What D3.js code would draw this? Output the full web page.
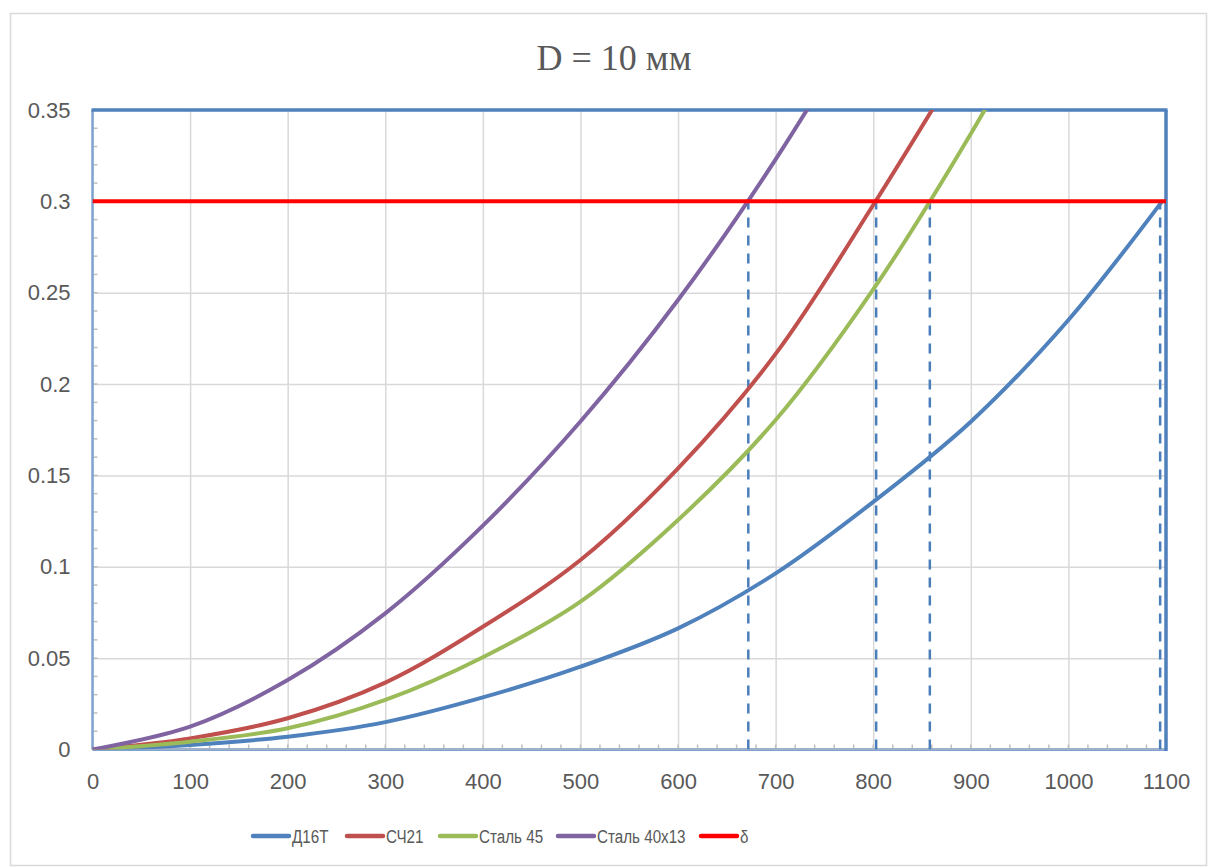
<!DOCTYPE html>
<html>
<head>
<meta charset="utf-8">
<script src="https://cdn.jsdelivr.net/npm/d3@7"></script>
<style>
  body { margin: 0; background: #fff; }
  .tick text { fill: #595959; font-family: "Liberation Sans", Arial, sans-serif; font-size: 22px; }
  .grid line { stroke: #d9d9d9; stroke-width: 1.5; }
  .grid .domain { display: none; }
</style>
</head>
<body>
<div class="container"></div>
<script>
var w = 1209;
var h = 867;

// data
var xTicks = [0, 100, 200, 300, 400, 500, 600, 700, 800, 900, 1000, 1100];
var yTicks = [0, 0.05, 0.1, 0.15, 0.2, 0.25, 0.3, 0.35];

var xD16T = [0, 100, 200, 300, 400, 500, 600, 700, 800, 900, 1000, 1096];
var yD16T = [0, 0.0025, 0.007, 0.015, 0.0285, 0.0453, 0.0663, 0.0964, 0.1355, 0.1794, 0.2351, 0.3];

var xSCh21 = [0, 100, 200, 300, 400, 500, 600, 700, 800, 900];
var ySCh21 = [0, 0.0061, 0.0171, 0.0366, 0.0672, 0.1037, 0.1539, 0.2165, 0.298, 0.385];

var xSt45 = [0, 100, 200, 300, 400, 500, 600, 700, 800, 900, 1000];
var ySt45 = [0, 0.0043, 0.0116, 0.0271, 0.0505, 0.0809, 0.1256, 0.1803, 0.2518, 0.337, 0.432];

var xSt40 = [0, 100, 200, 300, 400, 500, 600, 700, 800];
var ySt40 = [0, 0.0125, 0.038, 0.0745, 0.1225, 0.1795, 0.246, 0.323, 0.41];

var delta = 0.3;
var dropX = [672, 803, 858, 1094];

var names = ["Д16Т", "СЧ21", "Сталь 45", "Сталь 40х13", "δ"];
var colors = ["#4f81bd", "#c0504d", "#9bbb59", "#8064a2", "#ff0000"];

var series = [
  { name: names[0], color: colors[0], pts: d3.zip(xD16T, yD16T) },
  { name: names[1], color: colors[1], pts: d3.zip(xSCh21, ySCh21) },
  { name: names[2], color: colors[2], pts: d3.zip(xSt45, ySt45) },
  { name: names[3], color: colors[3], pts: d3.zip(xSt40, ySt40) }
];

var pLeft = 92.5, pRight = 1166, pTop = 110, pBottom = 749.5;

var svg = d3.select(".container").append("svg")
  .attr("width", w)
  .attr("height", h);

// outer chart frame
svg.append("rect")
  .attr("x", 10.5).attr("y", 13.5)
  .attr("width", 1196).attr("height", 852)
  .attr("fill", "#fff").attr("stroke", "#d9d9d9").attr("stroke-width", 1.5);

svg.append("text")
  .attr("x", 614).attr("y", 70)
  .attr("text-anchor", "middle")
  .attr("font-family", "Liberation Serif, Times New Roman, serif")
  .attr("font-size", 36)
  .attr("fill", "#595959")
  .text("D = 10 мм");

var x = d3.scaleLinear().domain([0, 1100]).range([pLeft, pRight]);
var y = d3.scaleLinear().domain([0, 0.35]).range([pBottom, pTop]);

// gridlines
svg.append("g").attr("class", "grid")
  .attr("transform", "translate(0," + pBottom + ")")
  .call(d3.axisBottom(x).tickValues(xTicks).tickSize(-(pBottom - pTop)).tickFormat(""));
svg.append("g").attr("class", "grid")
  .attr("transform", "translate(" + pLeft + ",0)")
  .call(d3.axisLeft(y).tickValues(yTicks).tickSize(-(pRight - pLeft)).tickFormat(""));

// minor ticks
svg.append("g").selectAll("line").data(d3.range(0, 1101, 20))
  .enter().append("line")
  .attr("x1", (d) => x(d)).attr("x2", (d) => x(d))
  .attr("y1", pBottom).attr("y2", pBottom - 5)
  .attr("stroke", "#bfbfbf").attr("stroke-width", 1.5);
svg.append("g").selectAll("line").data(d3.range(0, 36, 1))
  .enter().append("line")
  .attr("x1", pLeft).attr("x2", pLeft + 5)
  .attr("y1", (d) => y(d / 100)).attr("y2", (d) => y(d / 100))
  .attr("stroke", "#bfbfbf").attr("stroke-width", 1.5);

// tick labels
var xAxis = svg.append("g")
  .attr("transform", "translate(0," + pBottom + ")")
  .call(d3.axisBottom(x).tickValues(xTicks).tickSize(0).tickPadding(24).tickFormat(d3.format("d")));
xAxis.select(".domain").remove();
var yAxis = svg.append("g")
  .attr("transform", "translate(" + pLeft + ",0)")
  .call(d3.axisLeft(y).tickValues(yTicks).tickSize(0).tickPadding(22).tickFormat((d) => String(+d.toFixed(2))));
yAxis.select(".domain").remove();

// plot area border
svg.append("line").attr("x1", pLeft).attr("x2", pLeft).attr("y1", pTop).attr("y2", pBottom)
  .attr("stroke", "#7fa3d1").attr("stroke-width", 2.5);
svg.append("line").attr("x1", pLeft).attr("x2", pRight).attr("y1", pBottom).attr("y2", pBottom)
  .attr("stroke", "#7fa3d1").attr("stroke-width", 3);
svg.append("line").attr("x1", pLeft).attr("x2", pRight).attr("y1", pBottom - 0.5).attr("y2", pBottom - 0.5)
  .attr("stroke", "#bfbfbf").attr("stroke-width", 1);
svg.append("line").attr("x1", pLeft - 1).attr("x2", pRight + 1.5).attr("y1", pTop).attr("y2", pTop)
  .attr("stroke", "#4f81bd").attr("stroke-width", 3.5);
svg.append("line").attr("x1", pRight).attr("x2", pRight).attr("y1", pTop).attr("y2", pBottom + 1.5)
  .attr("stroke", "#4f81bd").attr("stroke-width", 3.5);

svg.append("clipPath").attr("id", "plotclip")
  .append("rect").attr("x", pLeft).attr("y", pTop).attr("width", pRight - pLeft).attr("height", pBottom - pTop);

var plot = svg.append("g").attr("clip-path", "url(#plotclip)");

// drop lines
plot.selectAll(".drop").data(dropX).enter().append("line")
  .attr("class", "drop")
  .attr("x1", (d) => x(d)).attr("x2", (d) => x(d))
  .attr("y1", y(0)).attr("y2", y(delta))
  .attr("stroke", "#4a7ebb").attr("stroke-width", 2.5)
  .attr("stroke-dasharray", "10,8");

var line = d3.line()
  .x((d) => x(d[0]))
  .y((d) => y(d[1]))
  .curve(d3.curveCatmullRom.alpha(0.5));

plot.selectAll(".curve").data(series).enter().append("path")
  .attr("class", "curve")
  .attr("d", (d) => line(d.pts))
  .attr("fill", "none")
  .attr("stroke", (d) => d.color)
  .attr("stroke-width", 4);

// limit line
plot.append("line")
  .attr("x1", x(0)).attr("x2", x(1100))
  .attr("y1", y(delta)).attr("y2", y(delta))
  .attr("stroke", colors[4]).attr("stroke-width", 4);

// legend
var legendX = [253, 347, 440, 558, 701];
var legend = svg.append("g").selectAll("g").data(names).enter().append("g")
  .attr("transform", (d, i) => "translate(" + legendX[i] + ",836)");
legend.append("line")
  .attr("x1", 0).attr("x2", 36)
  .attr("stroke", (d, i) => colors[i]).attr("stroke-width", 4.5)
  .attr("stroke-linecap", "round");
// narrow the text a bit, reference uses a condensed face
legend.append("text")
  .attr("transform", "translate(39,0) scale(0.8,1)")
  .attr("dy", "0.35em")
  .attr("font-family", "Liberation Sans, Arial, sans-serif")
  .attr("font-size", 19)
  .attr("fill", "#595959")
  .text((d) => d);
</script>
</body>
</html>
